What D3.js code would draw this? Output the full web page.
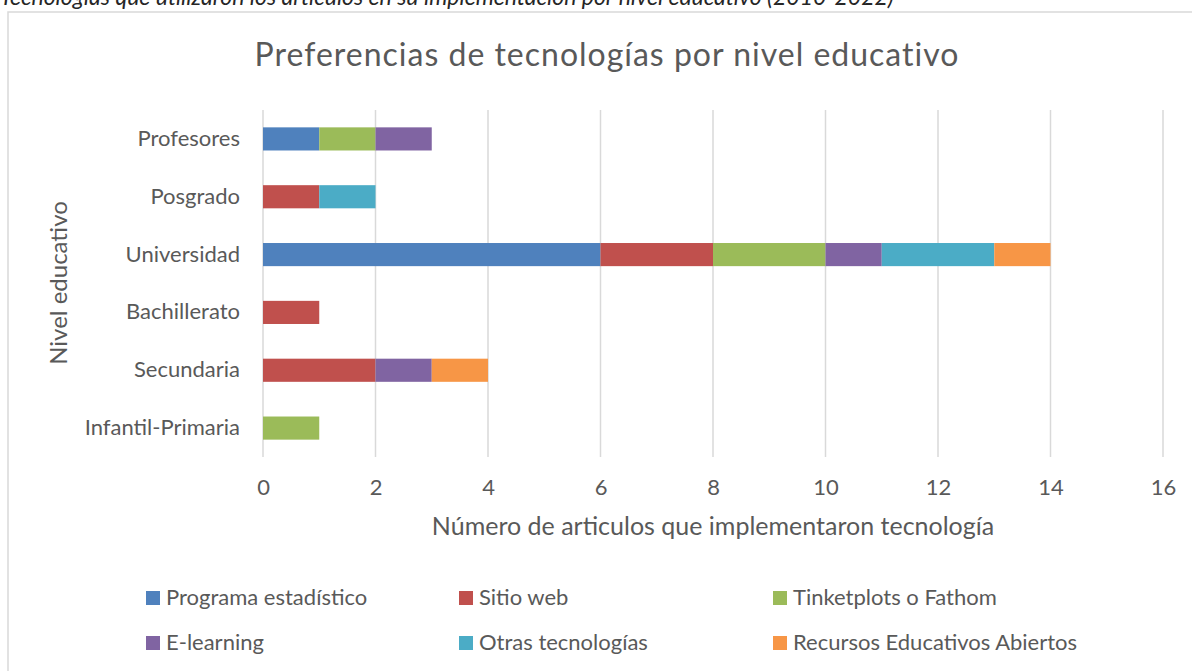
<!DOCTYPE html>
<html>
<head>
<meta charset="utf-8">
<script src="https://cdn.jsdelivr.net/npm/d3@7"></script>
<style>
  body { margin: 0; background: #fff; }
  svg { display: block; font-family: Lato, "Open Sans", sans-serif; }
</style>
</head>
<body>
<div id="chart"></div>
<script>
const categories = ["Infantil-Primaria", "Secundaria", "Bachillerato", "Universidad", "Posgrado", "Profesores"];
const seriesNames = ["Programa estadístico", "Sitio web", "Tinketplots o Fathom", "E-learning", "Otras tecnologías", "Recursos Educativos Abiertos"];
const seriesColors = ["#4f81bd", "#c0504d", "#9bbb59", "#8064a2", "#4bacc6", "#f79646"];

// values per serie, same order as categories
const programaEstadistico = [0, 0, 0, 6, 0, 1];
const sitioWeb = [0, 2, 1, 2, 1, 0];
const tinkerplots = [1, 0, 0, 2, 0, 1];
const eLearning = [0, 1, 0, 1, 0, 1];
const otrasTecnologias = [0, 0, 0, 2, 1, 0];
const recursosAbiertos = [0, 1, 0, 1, 0, 0];

const xTicks = [0, 2, 4, 6, 8, 10, 12, 14, 16];

const width = 1192;
const height = 671;

const svg = d3.select("#chart")
    .append("svg")
    .attr("width", width)
    .attr("height", height);

const textColor = "#595959";

// caption of the document, cut off at the top like in the original page
svg.append("text")
    .attr("x", 0)
    .attr("y", 5)
    .attr("font-style", "italic")
    .attr("font-size", 23)
    .attr("fill", "#262626")
    .text("Tecnologías que utilizaron los artículos en su implementación por nivel educativo (2010-2022)");

// chart border
svg.append("rect")
    .attr("x", 8)
    .attr("y", 12)
    .attr("width", 1300)
    .attr("height", 800)
    .attr("fill", "#fff")
    .attr("stroke", "#d9d9d9")
    .attr("stroke-width", 1.5);

svg.append("text")
    .attr("x", 607)
    .attr("y", 66)
    .attr("text-anchor", "middle")
    .attr("font-size", 32)
    .attr("letter-spacing", 1)
    .attr("fill", textColor)
    .text("Preferencias de tecnologías por nivel educativo");

const x = d3.scaleLinear()
    .domain([0, 16])
    .range([263, 1163]);

const y = d3.scaleBand()
    .domain(categories.slice().reverse())
    .range([110, 457])
    .paddingInner(0.6)
    .paddingOuter(0.3);

// gridlines
svg.append("g")
    .selectAll("line")
    .data(xTicks)
    .join("line")
    .attr("x1", d => x(d))
    .attr("x2", d => x(d))
    .attr("y1", 110)
    .attr("y2", 457)
    .attr("stroke", "#d9d9d9")
    .attr("stroke-width", 1.5);

// stacked bars
const rows = categories.map((c, i) => ({
    categoria: c,
    "Programa estadístico": programaEstadistico[i],
    "Sitio web": sitioWeb[i],
    "Tinketplots o Fathom": tinkerplots[i],
    "E-learning": eLearning[i],
    "Otras tecnologías": otrasTecnologias[i],
    "Recursos Educativos Abiertos": recursosAbiertos[i]
}));

const stacked = d3.stack().keys(seriesNames)(rows);
const color = d3.scaleOrdinal().domain(seriesNames).range(seriesColors);

svg.append("g")
    .selectAll("g")
    .data(stacked)
    .join("g")
    .attr("fill", d => color(d.key))
    .selectAll("rect")
    .data(d => d.filter(s => s[1] - s[0] > 0))
    .join("rect")
    .attr("x", d => x(d[0]))
    .attr("y", d => y(d.data.categoria))
    .attr("width", d => x(d[1]) - x(d[0]))
    .attr("height", y.bandwidth());

// x axis
const xAxis = svg.append("g")
    .attr("transform", "translate(0,457)")
    .call(d3.axisBottom(x).tickValues(xTicks).tickSize(0).tickPadding(22));
xAxis.select(".domain").remove();
xAxis.selectAll("text")
    .attr("font-family", "Lato, sans-serif")
    .attr("font-size", 22)
    .attr("fill", textColor);

// y axis
const yAxis = svg.append("g")
    .attr("transform", "translate(263,0)")
    .call(d3.axisLeft(y).tickSize(0).tickPadding(23));
yAxis.select(".domain").remove();
yAxis.selectAll("text")
    .attr("font-family", "Lato, sans-serif")
    .attr("font-size", 22)
    .attr("fill", textColor);

svg.append("text")
    .attr("x", 713)
    .attr("y", 535)
    .attr("text-anchor", "middle")
    .attr("font-size", 25)
    .attr("fill", textColor)
    .text("Número de articulos que implementaron tecnología");

svg.append("text")
    .attr("transform", "translate(67,283) rotate(-90)")
    .attr("text-anchor", "middle")
    .attr("font-size", 24)
    .attr("fill", textColor)
    .text("Nivel educativo");

// legend
const legendCols = [146, 459, 773];
const legendRows = [605, 650];

const legend = svg.append("g")
    .selectAll("g")
    .data(seriesNames)
    .join("g")
    .attr("transform", (d, i) => `translate(${legendCols[i % 3]},${legendRows[Math.floor(i / 3)]})`);

legend.append("rect")
    .attr("x", 0)
    .attr("y", -14)
    .attr("width", 14)
    .attr("height", 14)
    .attr("fill", d => color(d));

legend.append("text")
    .attr("x", 20)
    .attr("y", 0)
    .attr("font-size", 22)
    .attr("fill", textColor)
    .text(d => d);
</script>
</body>
</html>
